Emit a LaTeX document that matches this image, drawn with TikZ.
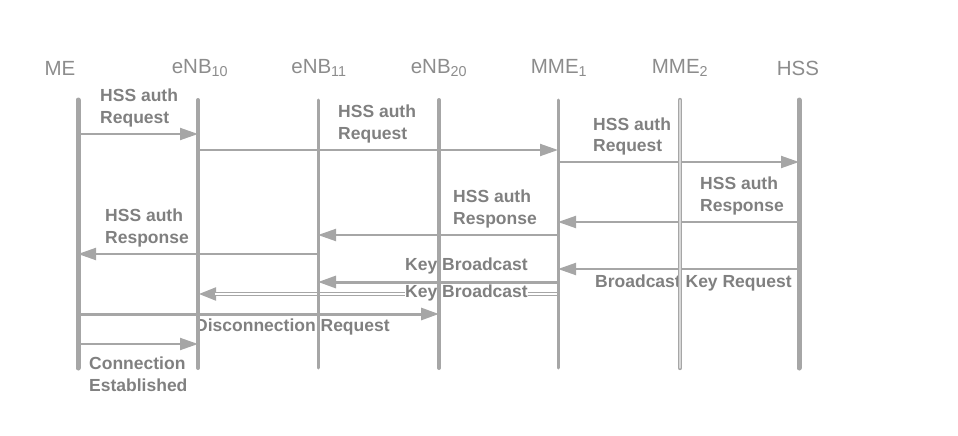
\documentclass[tikz,border=0pt]{standalone}
\usepackage{fontspec}
\setmainfont{Liberation Sans}
\usepackage{tikz}
\usetikzlibrary{arrows.meta, positioning, calc}
\definecolor{lineg}{HTML}{A6A6A6}
\definecolor{textg}{HTML}{808080}
\definecolor{headg}{HTML}{8C8C8C}
\tikzset{
	>={Triangle[length=18pt,width=12pt]},
	actor/.style={text=headg, font=\fontsize{20.5}{20.5}\selectfont, inner sep=0pt},
	life/.style={draw=lineg, line width=4pt, line cap=round},
	msg/.style={->, draw=lineg, line width=2pt},
	lbl/.style={text=textg, font=\bfseries\fontsize{17.5}{21.5}\selectfont, align=left, inner sep=0pt, anchor=west},
}

\begin{document}
\begin{tikzpicture}[x=1pt, y=-1pt]
			\useasboundingbox (0,0) rectangle (958,436);
			
			\node[actor] (ME) at (60,68) {ME};
			\node[actor] (ENBa) at (200,68) {eNB\textsubscript{10}};
			\node[actor] (ENBb) at (319,68) {eNB\textsubscript{11}};
			\node[actor] (ENBc) at (439,68) {eNB\textsubscript{20}};
			\node[actor] (MMEa) at (559,68) {MME\textsubscript{1}};
			\node[actor] (MMEb) at (680,68) {MME\textsubscript{2}};
			\node[actor] (HSS) at (798,68) {HSS};
			
			\coordinate (MEt) at (78,100);
			\coordinate (ENBat) at (198,100);
			\coordinate (ENBbt) at (318,100);
			\coordinate (ENBct) at (439,100);
			\coordinate (MMEat) at (558,100);
			\coordinate (MMEbt) at (680,100);
			\coordinate (HSSt) at (799,100);
			
			\draw[msg] (MEt |- 0,134) -- (ENBat |- 0,134);
			\draw[msg] (ENBat |- 0,150) -- (MMEat |- 0,150);
			\draw[msg] (MMEat |- 0,162) -- (HSSt |- 0,162);
			\draw[msg] (HSSt |- 0,222) -- (MMEat |- 0,222);
			\draw[msg] (MMEat |- 0,235) -- (ENBbt |- 0,235);
			\draw[msg] (ENBbt |- 0,254) -- (MEt |- 0,254);
			\draw[msg] (HSSt |- 0,269) -- (MMEat |- 0,269);
			\draw[msg, line width=3pt] (MMEat |- 0,282) -- (ENBbt |- 0,282);
			\draw[msg, line width=4.4pt] (MMEat |- 0,294) -- (ENBat |- 0,294);
			\draw[white, line width=1.4pt, shorten >=17pt] (MMEat |- 0,294) -- (ENBat |- 0,294);
			\draw[msg, line width=3pt] (MEt |- 0,314) -- (ENBct |- 0,314);
			\draw[msg] (MEt |- 0,344) -- (ENBat |- 0,344);
			
			\node[lbl] (l1) at (100,108) {HSS auth\\Request};
			\node[lbl] (l2) at (338,124) {HSS auth\\Request};
			\node[lbl] (l3) at (593,136.5) {HSS auth\\Request};
			\node[lbl] (l4) at (700,196) {HSS auth\\Response};
			\node[lbl] (l5) at (453,209) {HSS auth\\Response};
			\node[lbl] (l6) at (105,228) {HSS auth\\Response};
			\node[lbl] (l7) at (595,283) {Broadcast Key Request};
			\node[lbl] (l8) at (405,266) {Key Broadcast};
			\node[lbl, fill=white] (l9) at (405,293) {Key Broadcast};
			\node[lbl] (l10) at (195,327) {Disconnection Request};
			\node[lbl] (l11) at (89,374) {Connection\\Established};
			
			\draw[life, line width=5pt] (MEt) -- (MEt |- 0,368);
			\draw[life] (ENBat) -- (ENBat |- 0,368);
			\draw[life, line width=3pt] (ENBbt) -- (ENBbt |- 0,368);
			\draw[life] (ENBct) -- (ENBct |- 0,368);
			\draw[life, line width=3pt] (MMEat) -- (MMEat |- 0,368);
			\draw[life, line width=1.6pt, double=lineg!45, double distance=1.2pt] (MMEbt) -- (MMEbt |- 0,368);
			\draw[life, line width=5pt] (HSSt) -- (HSSt |- 0,368);
			
\end{tikzpicture}
\end{document}
